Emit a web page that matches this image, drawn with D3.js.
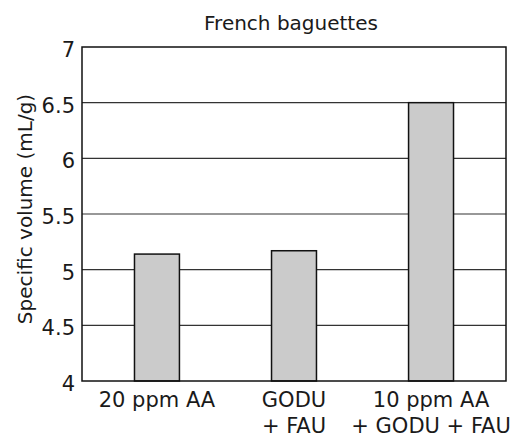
<!DOCTYPE html>
<html><head><meta charset="utf-8">
<script src="https://cdn.jsdelivr.net/npm/d3@7"></script>
<style>
body{margin:0;background:#fff;}
text{font-family:"DejaVu Sans",sans-serif;fill:#1a1a1a;}
</style></head>
<body><svg id="c" width="513" height="438"></svg>
<script>
const categories = ["20 ppm AA", "GODU\n+ FAU", "10 ppm AA\n+ GODU + FAU"];
const values = [5.14, 5.17, 6.5];
const yTicks = [4, 4.5, 5, 5.5, 6, 6.5, 7];
const title = "French baguettes";
const yLabel = "Specific volume (mL/g)";

const svg = d3.select("#c");
const m = {l:82, r:506, t:47, b:381};
const x = d3.scaleBand().domain(categories).range([m.l, m.r]).paddingInner(0.672).paddingOuter(0.383);
const y = d3.scaleLinear().domain([4, 7]).range([m.b, m.t]);

// gridlines
svg.append("g").selectAll("line").data(yTicks.filter(d=>d>4 && d<7)).join("line")
  .attr("x1", m.l).attr("x2", m.r).attr("y1", d=>y(d)).attr("y2", d=>y(d))
  .attr("stroke", "#333").attr("stroke-width", 1.2);

// bars
svg.append("g").selectAll("rect").data(values).join("rect")
  .attr("x", (d,i)=>x(categories[i])).attr("width", x.bandwidth())
  .attr("y", d=>y(d)).attr("height", d=>y(4)-y(d))
  .attr("fill", "#cbcbcb").attr("stroke", "#111").attr("stroke-width", 1.5);

// frame
svg.append("rect").attr("x", m.l).attr("y", m.t).attr("width", m.r-m.l).attr("height", m.b-m.t)
  .attr("fill", "none").attr("stroke", "#111").attr("stroke-width", 1.5);

// y axis
const ya = svg.append("g").attr("transform", `translate(${m.l},0)`)
  .call(d3.axisLeft(y).tickValues(yTicks).tickFormat(d3.format("~g")).tickSize(0).tickPadding(7));
ya.select(".domain").remove();
ya.selectAll("text").style("font-family", '"DejaVu Sans",sans-serif').style("font-size", "21px")
  .attr("dy", "0.45em").attr("fill", "#1a1a1a");

// x axis labels
const xa = svg.append("g").attr("transform", `translate(0,${m.b})`)
  .call(d3.axisBottom(x).tickSize(0).tickFormat(""));
xa.select(".domain").remove();
xa.selectAll(".tick").each(function(d){
  const t = d3.select(this).append("text").attr("text-anchor","middle")
    .style("font-size","21px").attr("fill","#1a1a1a");
  d.split("\n").forEach((s,i)=>{
    t.append("tspan").attr("x",0).attr("y", 26 + i*26).text(s);
  });
});

svg.append("text").attr("x", 291).attr("y", 30).attr("text-anchor","middle")
  .style("font-size","20px").text(title);
svg.append("text").attr("transform", `translate(32,209) rotate(-90)`)
  .attr("text-anchor","middle").style("font-size","20px").text(yLabel);
</script></body></html>
